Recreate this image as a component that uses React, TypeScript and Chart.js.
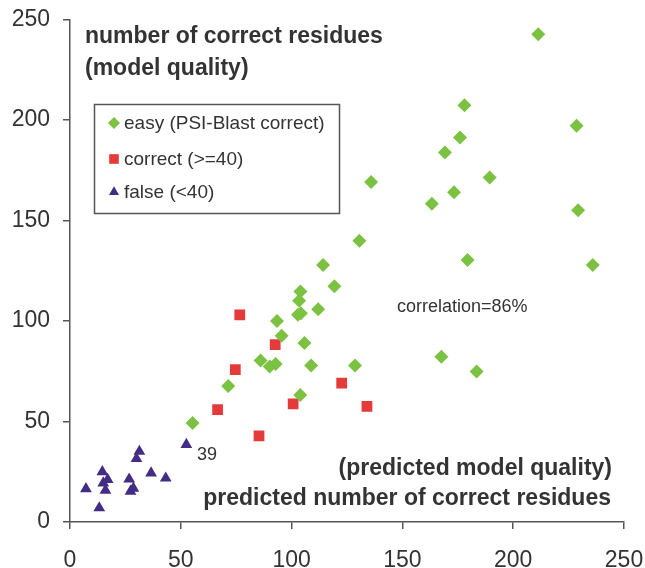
import React, { useEffect, useRef } from "react";
import { Chart, registerables } from "chart.js";

Chart.register(...registerables);

const easyX = [55.3, 71.4, 86.0, 90.1, 92.8, 93.4, 95.5, 102.9, 104.2, 103.4, 104.0, 112.0, 105.8, 108.8, 103.9, 119.3, 114.2, 128.6, 130.6, 135.9, 163.3, 167.6, 169.2, 173.3, 176.0, 178.0, 179.4, 183.5, 189.4, 211.3, 228.6, 229.3, 235.9];
const easyY = [49.2, 67.6, 80.3, 77.4, 78.6, 100.0, 92.7, 103.1, 103.9, 110.1, 114.7, 105.9, 89.1, 77.9, 63.2, 117.3, 127.9, 77.8, 139.9, 169.2, 158.3, 82.2, 183.8, 164.1, 191.3, 207.4, 130.3, 74.9, 171.4, 242.7, 197.1, 155.1, 127.9];

const correctX = [66.6, 74.6, 76.6, 85.3, 92.6, 100.7, 122.6, 134.0];
const correctY = [55.9, 75.8, 103.0, 42.8, 88.2, 58.8, 69.1, 57.5];

const falseX = [7.2, 13.2, 14.6, 15.0, 17.0, 16.0, 26.7, 27.3, 28.6, 30.0, 31.3, 36.6, 43.2, 52.5];
const falseY = [16.5, 7.0, 25.0, 19.4, 21.1, 15.8, 21.3, 15.3, 16.8, 31.5, 35.1, 24.3, 21.8, 38.5];

const seriesLabels = ["easy (PSI-Blast correct)", "correct (>=40)", "false (<40)"];
const seriesColors = ["#7CC242", "#E43A3A", "#432C86"];
const seriesStyles = ["rectRot", "rect", "triangle"];
const seriesRadius = [7, 7.6, 6.8];

const axisMin = 0;
const axisMax = 250;
const axisStep = 50;

const FONT = "'Liberation Sans', Arial, sans-serif";
const TEXT = "#333333";

function toPts(xs: number[], ys: number[]) {
  return xs.map((x, i) => ({ x, y: ys[i] }));
}

function zeroPad(s: any) {
  s.paddingLeft = 0;
  s.paddingRight = 0;
  s.paddingTop = 0;
  s.paddingBottom = 0;
}

const overlayPlugin = {
  id: "overlay",
  afterDraw(chart: any) {
    const ctx = chart.ctx as CanvasRenderingContext2D;
    ctx.save();
    ctx.fillStyle = TEXT;
    ctx.textBaseline = "alphabetic";
    ctx.font = `bold 23px ${FONT}`;
    ctx.textAlign = "left";
    ctx.fillText("number of correct residues", 85, 43);
    ctx.fillText("(model quality)", 85, 75);
    ctx.textAlign = "right";
    ctx.fillText("(predicted model quality)", 612, 475);
    ctx.fillText("predicted number of correct residues", 611, 505);

    ctx.textAlign = "left";
    ctx.font = `18px ${FONT}`;
    ctx.fillText("correlation=86%", 397, 312);
    ctx.fillText("39", 197, 460);

    // legend box
    ctx.strokeStyle = "#555555";
    ctx.lineWidth = 1.5;
    ctx.strokeRect(94.5, 104.5, 245, 109);
    const rows = [123, 159, 192];
    ctx.font = `19px ${FONT}`;
    ctx.textBaseline = "middle";
    for (let i = 0; i < 3; i++) {
      const cx = 114;
      const cy = rows[i];
      ctx.fillStyle = seriesColors[i];
      ctx.beginPath();
      if (seriesStyles[i] === "rectRot") {
        const r = 6;
        ctx.moveTo(cx, cy - r);
        ctx.lineTo(cx + r, cy);
        ctx.lineTo(cx, cy + r);
        ctx.lineTo(cx - r, cy);
      } else if (seriesStyles[i] === "rect") {
        const h = 4.8;
        ctx.rect(cx - h, cy - h, 2 * h, 2 * h);
      } else {
        const r = 5.8;
        ctx.moveTo(cx, cy - r);
        ctx.lineTo(cx + r * 0.866, cy + r / 2);
        ctx.lineTo(cx - r * 0.866, cy + r / 2);
      }
      ctx.closePath();
      ctx.fill();
      ctx.fillStyle = TEXT;
      ctx.fillText(seriesLabels[i], 124, cy + 1);
    }
    ctx.restore();
  },
};

export default function App() {
  const ref = useRef<HTMLCanvasElement>(null);
  useEffect(() => {
    if (!ref.current) return;
    const sets = [toPts(easyX, easyY), toPts(correctX, correctY), toPts(falseX, falseY)];
    const chart = new Chart(ref.current, {
      type: "scatter",
      data: {
        datasets: sets.map((d, i) => ({
          label: seriesLabels[i],
          data: d,
          pointStyle: seriesStyles[i] as any,
          pointRadius: seriesRadius[i],
          pointBackgroundColor: seriesColors[i],
          pointBorderColor: seriesColors[i],
          pointBorderWidth: 0,
          pointHoverRadius: seriesRadius[i],
        })),
      },
      options: {
        animation: false,
        responsive: false,
        layout: { padding: { top: 19.5, right: 21, left: 0, bottom: 0 } },
        plugins: {
          legend: { display: false },
          tooltip: { enabled: false },
        },
        scales: {
          x: {
            type: "linear",
            min: axisMin,
            max: axisMax,
            afterFit: (s: any) => {
              s.height = 46;
              zeroPad(s);
            },
            ticks: {
              stepSize: axisStep,
              padding: 18,
              color: TEXT,
              font: { family: FONT, size: 23 },
            },
            grid: {
              drawOnChartArea: false,
              drawTicks: true,
              tickLength: 7,
              color: "#555555",
              lineWidth: 1.5,
            },
            border: { display: true, color: "#555555", width: 1.5 },
          },
          y: {
            type: "linear",
            min: axisMin,
            max: axisMax,
            afterFit: (s: any) => {
              s.width = 70;
              zeroPad(s);
            },
            ticks: {
              stepSize: axisStep,
              padding: 13,
              color: TEXT,
              font: { family: FONT, size: 23 },
            },
            grid: {
              drawOnChartArea: false,
              drawTicks: true,
              tickLength: 7,
              color: "#555555",
              lineWidth: 1.5,
            },
            border: { display: true, color: "#555555", width: 1.5 },
          },
        },
      },
      plugins: [overlayPlugin],
    });
    return () => chart.destroy();
  }, []);
  return (
    <div style={{ position: "fixed", left: 0, top: 0, width: 645, height: 568, background: "#fff" }}>
      <canvas ref={ref} width={645} height={568} style={{ display: "block" }} />
    </div>
  );
}
